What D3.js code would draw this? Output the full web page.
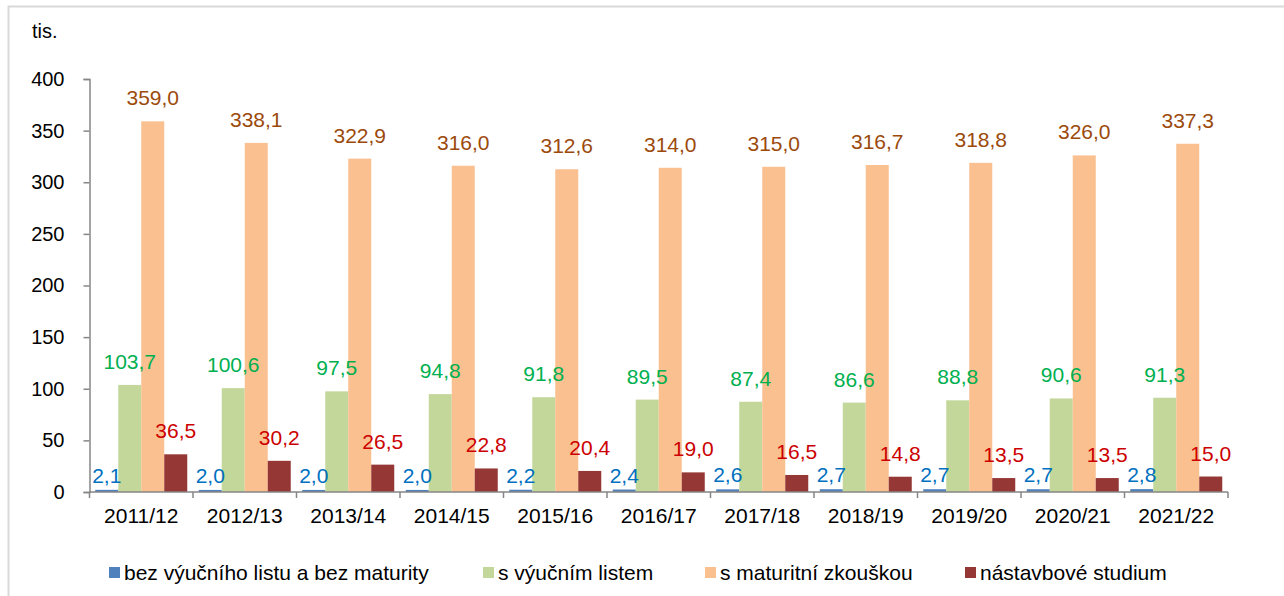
<!DOCTYPE html>
<meta charset="utf-8">
<script src="https://d3js.org/d3.v7.min.js"></script>
<style>
  body { margin: 0; background: #fff; }
  svg { font-family: "Liberation Sans", Arial, sans-serif; }
</style>
<div id="chart"></div>
<script>
  // school years and series (tis.)
  const years = ["2011/12", "2012/13", "2013/14", "2014/15", "2015/16", "2016/17", "2017/18", "2018/19", "2019/20", "2020/21", "2021/22"];
  const bezVyucni = [2.1, 2.0, 2.0, 2.0, 2.2, 2.4, 2.6, 2.7, 2.7, 2.7, 2.8];
  const sVyucnim = [103.7, 100.6, 97.5, 94.8, 91.8, 89.5, 87.4, 86.6, 88.8, 90.6, 91.3];
  const sMaturitou = [359.0, 338.1, 322.9, 316.0, 312.6, 314.0, 315.0, 316.7, 318.8, 326.0, 337.3];
  const nastavbove = [36.5, 30.2, 26.5, 22.8, 20.4, 19.0, 16.5, 14.8, 13.5, 13.5, 15.0];
  const seriesNames = ["bez výučního listu a bez maturity", "s výučním listem", "s maturitní zkouškou", "nástavbové studium"];
  const yTicks = [0, 50, 100, 150, 200, 250, 300, 350, 400];

  const width = 1284, height = 596;

  const series = [
    { name: seriesNames[0], values: bezVyucni, fill: "#4f81bd", label: "#0070c0" },
    { name: seriesNames[1], values: sVyucnim, fill: "#c4d79b", label: "#00b050" },
    { name: seriesNames[2], values: sMaturitou, fill: "#fac090", label: "#9c4a0c" },
    { name: seriesNames[3], values: nastavbove, fill: "#953735", label: "#cc0000" }
  ];

  const svg = d3.select("#chart")
    .append("svg")
    .attr("width", width)
    .attr("height", height);

  // outer frame
  svg.append("rect")
    .attr("x", 8.5).attr("y", 6.5)
    .attr("width", width).attr("height", height)
    .attr("fill", "none")
    .attr("stroke", "#d9d9d9")
    .attr("stroke-width", 2);

  const x = d3.scaleBand()
    .domain(years)
    .range([89.5, 1228])
    .paddingInner(0).paddingOuter(0);

  const xs = d3.scaleBand()
    .domain(d3.range(series.length))
    .range([0, x.bandwidth()])
    .paddingInner(0).paddingOuter(0.25);

  const y = d3.scaleLinear()
    .domain([0, 400])
    .range([492, 79]);

  // bars
  const groups = svg.selectAll("g.year")
    .data(years)
    .join("g")
    .attr("class", "year")
    .attr("transform", d => `translate(${x(d)},0)`);

  series.forEach((s, si) => {
    groups.append("rect")
      .attr("x", xs(si))
      .attr("width", xs.bandwidth())
      .attr("y", (d, i) => y(s.values[i]))
      .attr("height", (d, i) => y(0) - y(s.values[i]))
      .attr("fill", s.fill);
  });

  // data labels
  const fmt = v => d3.format(".1f")(v).replace(".", ",");
  series.forEach((s, si) => {
    groups.append("text")
      .attr("x", xs(si) + xs.bandwidth() / 2)
      .attr("y", (d, i) => si === 0 ? y(s.values[i]) - 7 : y(s.values[i]) - 16)
      .attr("text-anchor", "middle")
      .attr("fill", s.label)
      .style("font-size", "21px")
      .text((d, i) => fmt(s.values[i]));
  });

  // y axis
  const yAxis = svg.append("g")
    .attr("transform", "translate(89.5,0)")
    .call(d3.axisLeft(y).tickValues(yTicks).tickSize(6).tickPadding(19).tickFormat(d3.format("d")));
  yAxis.selectAll("path, line").attr("stroke", "#868686").attr("stroke-width", 1.5);
  yAxis.selectAll("text").style("font-size", "20px").attr("fill", "#000");

  // x axis (ticks at category boundaries)
  const xAxis = svg.append("g").attr("transform", "translate(0,492)");
  xAxis.append("line")
    .attr("x1", x.range()[0]).attr("x2", x.range()[1])
    .attr("stroke", "#868686").attr("stroke-width", 1.5);
  xAxis.selectAll("line.tick")
    .data(years.concat([null]))
    .join("line")
    .attr("class", "tick")
    .attr("x1", (d, i) => x.range()[0] + i * x.step())
    .attr("x2", (d, i) => x.range()[0] + i * x.step())
    .attr("y1", 0).attr("y2", 6)
    .attr("stroke", "#868686").attr("stroke-width", 1.5);
  xAxis.selectAll("text")
    .data(years)
    .join("text")
    .attr("x", d => x(d) + x.bandwidth() / 2)
    .attr("y", 31)
    .attr("text-anchor", "middle")
    .style("font-size", "21px")
    .text(d => d);

  // unit
  svg.append("text")
    .attr("x", 32).attr("y", 38)
    .style("font-size", "20px")
    .text("tis.");

  // legend
  const legendX = [109, 483, 705, 965];
  const legend = svg.selectAll("g.legend")
    .data(series)
    .join("g")
    .attr("class", "legend")
    .attr("transform", (d, i) => `translate(${legendX[i]},567)`);
  legend.append("rect")
    .attr("width", 11).attr("height", 11)
    .attr("fill", d => d.fill);
  legend.append("text")
    .attr("x", 15).attr("y", 13)
    .style("font-size", "21px")
    .text(d => d.name);
</script>
